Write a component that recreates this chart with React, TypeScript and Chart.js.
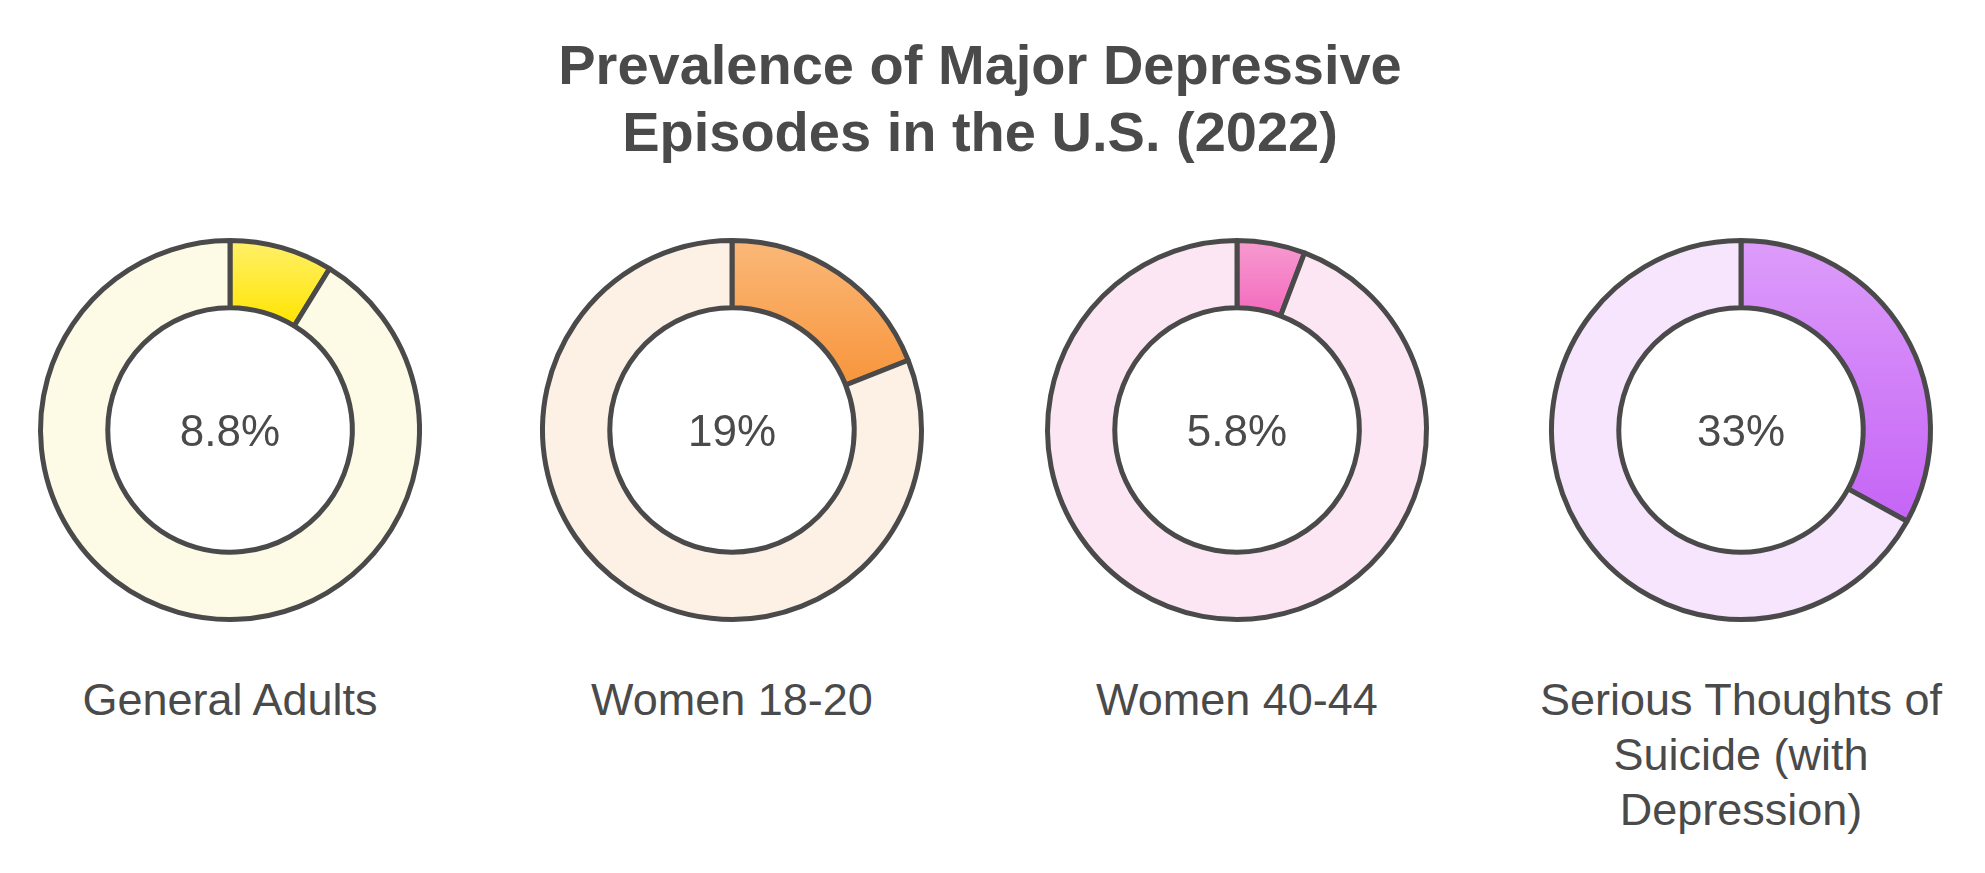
import React, { useEffect, useRef } from "react";
import { Chart, registerables } from "chart.js";

Chart.register(...registerables);

// ---- data ----
const titleLines = ["Prevalence of Major Depressive", "Episodes in the U.S. (2022)"];
const categories = [
  "General Adults",
  "Women 18-20",
  "Women 40-44",
  "Serious Thoughts of Suicide (with Depression)",
];
const values = [8.8, 19, 5.8, 33];
const valueLabels = ["8.8%", "19%", "5.8%", "33%"];
const highlightTop = ["#fff06a", "#fbb878", "#f79bd0", "#dd9cfa"];
const highlightBottom = ["#ffe500", "#f7953c", "#f36abd", "#c564f6"];
const remainderColors = ["#fdfbe6", "#fdf1e6", "#fce6f3", "#f6e5fd"];

// ---- layout ----
const CENTERS_X = [230, 732, 1237, 1741];
const CENTER_Y = 430;
const CANVAS = 400;
const BORDER = 5;
const TEXT = "#4a4a4a";
const FONT = '"Liberation Sans", Arial, Helvetica, sans-serif';

function segmentFill(ctx: any, i: number) {
  if (ctx.dataIndex !== 0) return remainderColors[i];
  const chart = ctx.chart;
  const area = chart.chartArea;
  if (!area) return highlightBottom[i];
  const ctrl: any = chart.getDatasetMeta(0).controller;
  const size = Math.min(area.right - area.left, area.bottom - area.top);
  const R = ctrl && ctrl.outerRadius ? ctrl.outerRadius : (size - BORDER) / 2;
  const r = ctrl && ctrl.innerRadius ? ctrl.innerRadius : R * 0.64;
  const cy = (area.top + area.bottom) / 2;
  const theta = (values[i] / 100) * Math.PI * 2;
  const c = Math.cos(theta);
  let bottom: number;
  if (theta >= Math.PI) bottom = cy + R;
  else bottom = c > 0 ? cy - r * c : cy - R * c;
  const top = cy - R;
  const g = chart.ctx.createLinearGradient(0, top, 0, bottom);
  g.addColorStop(0, highlightTop[i]);
  g.addColorStop(1, highlightBottom[i]);
  return g;
}

function Donut({ index }: { index: number }) {
  const ref = useRef<HTMLCanvasElement>(null);
  useEffect(() => {
    const canvas = ref.current;
    if (!canvas) return;
    const v = values[index];
    const chart = new Chart(canvas, {
      type: "doughnut",
      data: {
        labels: [categories[index], "Other"],
        datasets: [
          {
            data: [v, 100 - v],
            backgroundColor: (ctx: any) => segmentFill(ctx, index),
            borderColor: "#4a4a4a",
            borderWidth: BORDER,
            hoverBorderWidth: BORDER,
            hoverOffset: 0,
            borderAlign: "center",
          } as any,
        ],
      },
      options: {
        responsive: false,
        maintainAspectRatio: false,
        animation: false,
        cutout: "64.5%",
        layout: { padding: 8 },
        events: [],
        plugins: {
          legend: { display: false },
          tooltip: { enabled: false },
          title: { display: false },
        },
      } as any,
    });
    return () => chart.destroy();
  }, [index]);

  const cx = CENTERS_X[index];
  return (
    <>
      <canvas
        ref={ref}
        width={CANVAS}
        height={CANVAS}
        style={{
          position: "absolute",
          left: cx - CANVAS / 2,
          top: CENTER_Y - CANVAS / 2,
          width: CANVAS,
          height: CANVAS,
        }}
      />
      <div
        style={{
          position: "absolute",
          left: cx - 150,
          width: 300,
          top: 409,
          textAlign: "center",
          fontFamily: FONT,
          fontSize: 44,
          lineHeight: "44px",
          color: TEXT,
        }}
      >
        {valueLabels[index]}
      </div>
      <div
        style={{
          position: "absolute",
          left: cx - 225,
          width: 450,
          top: 672,
          textAlign: "center",
          fontFamily: FONT,
          fontSize: 45,
          lineHeight: "55px",
          color: TEXT,
        }}
      >
        {categories[index]}
      </div>
    </>
  );
}

export default function App() {
  return (
    <div
      style={{
        position: "absolute",
        left: 0,
        top: 0,
        width: 1985,
        height: 873,
        background: "#ffffff",
        overflow: "hidden",
      }}
    >
      <div
        style={{
          position: "absolute",
          left: 980 - 600,
          width: 1200,
          top: 31,
          textAlign: "center",
          fontFamily: FONT,
          fontWeight: "bold",
          fontSize: 56,
          lineHeight: "67px",
          color: TEXT,
        }}
      >
        {titleLines.map((t, i) => (
          <div key={i}>{t}</div>
        ))}
      </div>
      {values.map((_, i) => (
        <Donut key={i} index={i} />
      ))}
    </div>
  );
}
